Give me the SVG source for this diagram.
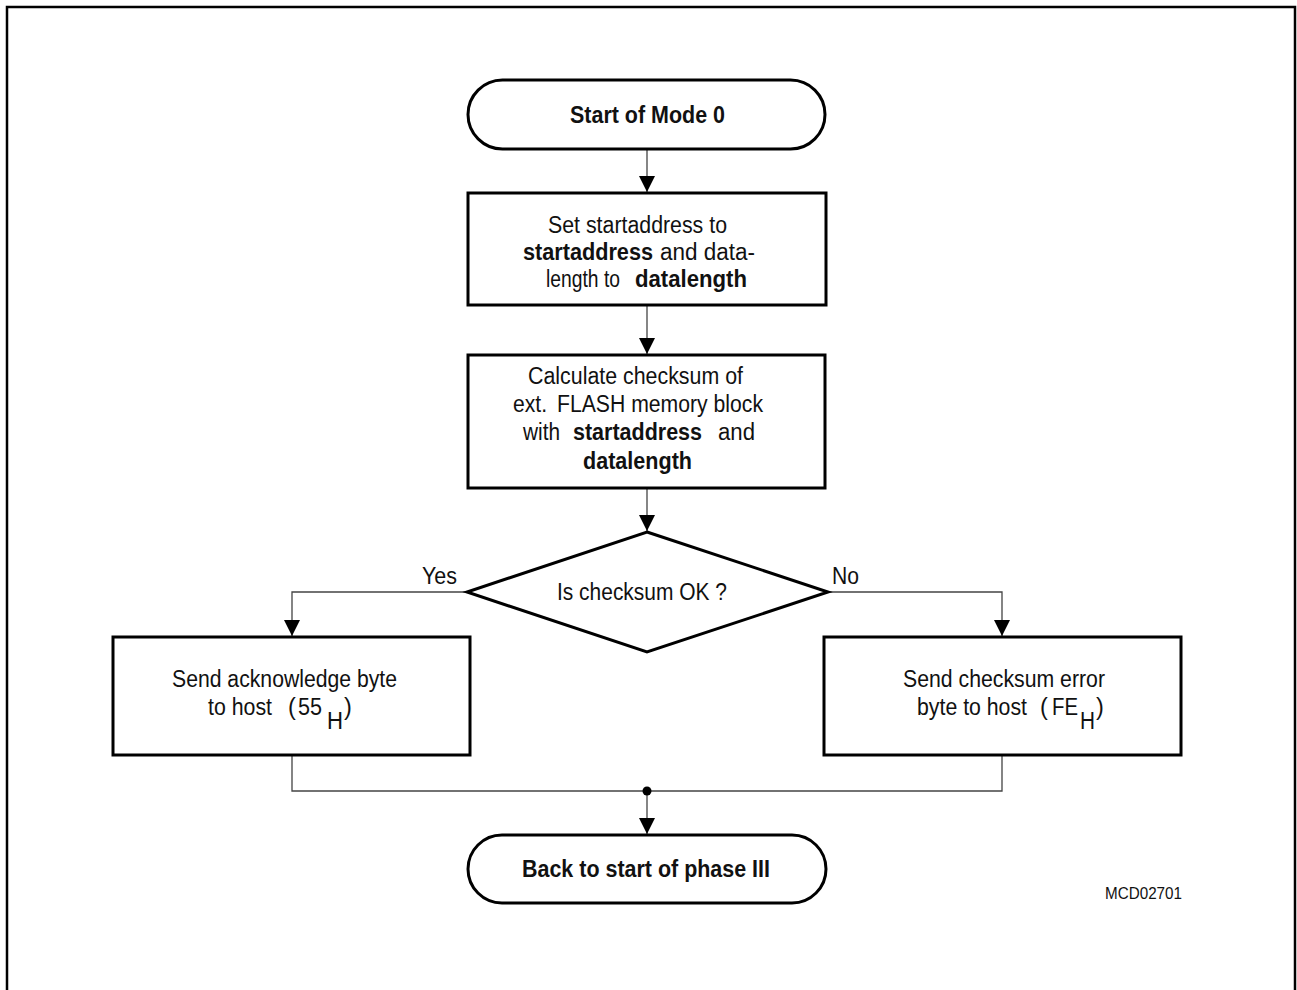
<svg xmlns="http://www.w3.org/2000/svg" width="1297" height="990" viewBox="0 0 1297 990">
<style>
.shape{fill:#fff;stroke:#000;stroke-width:3}
.conn{fill:none;stroke:#444;stroke-width:1.3}
text{font-family:"Liberation Sans",Arial,sans-serif;font-size:23.5px;fill:#111}
.b{font-weight:bold}
.small{font-size:17px}
</style>
<defs>
<marker id="arr" viewBox="0 0 16 16" refX="16" refY="8" markerWidth="16" markerHeight="16" markerUnits="userSpaceOnUse" orient="auto">
<path d="M0,0 L16,8 L0,16 Z" fill="#000"/>
</marker>
</defs>
<rect x="7" y="7" width="1288" height="1000" fill="#fff" stroke="#000" stroke-width="2.5"/>
<g id="connectors">
<line class="conn" x1="647" y1="149" x2="647" y2="192" marker-end="url(#arr)"/>
<line class="conn" x1="647" y1="305" x2="647" y2="354" marker-end="url(#arr)"/>
<line class="conn" x1="647" y1="488" x2="647" y2="531" marker-end="url(#arr)"/>
<polyline class="conn" points="467,592 292,592 292,636" marker-end="url(#arr)"/>
<polyline class="conn" points="828,592 1002,592 1002,636" marker-end="url(#arr)"/>
<polyline class="conn" points="292,755 292,791 1002,791 1002,755"/>
<line class="conn" x1="647" y1="791" x2="647" y2="834" marker-end="url(#arr)"/>
<circle cx="647" cy="791" r="4.5" fill="#000"/>
<text x="422" y="584" textLength="35" lengthAdjust="spacingAndGlyphs">Yes</text>
<text x="832" y="584" textLength="27" lengthAdjust="spacingAndGlyphs">No</text>
</g>
<g id="start">
<rect class="shape" x="468" y="80" width="357" height="69" rx="34.5" ry="34.5"/>
<text class="b" x="570" y="123" textLength="155" lengthAdjust="spacingAndGlyphs">Start of Mode 0</text>
</g>
<g id="set">
<rect class="shape" x="468" y="193" width="358" height="112"/>
<text x="548" y="233" textLength="179" lengthAdjust="spacingAndGlyphs">Set startaddress to</text>
<text class="b" x="523" y="260" textLength="130" lengthAdjust="spacingAndGlyphs">startaddress</text>
<text x="660" y="260" textLength="95" lengthAdjust="spacingAndGlyphs">and data-</text>
<text x="546" y="287" textLength="74" lengthAdjust="spacingAndGlyphs">length to</text>
<text class="b" x="635" y="287" textLength="112" lengthAdjust="spacingAndGlyphs">datalength</text>
</g>
<g id="calc">
<rect class="shape" x="468" y="355" width="357" height="133"/>
<text x="528" y="384" textLength="215" lengthAdjust="spacingAndGlyphs">Calculate checksum of</text>
<text x="513" y="412" textLength="34" lengthAdjust="spacingAndGlyphs">ext.</text>
<text x="557" y="412" textLength="206" lengthAdjust="spacingAndGlyphs">FLASH memory block</text>
<text x="523" y="440" textLength="37" lengthAdjust="spacingAndGlyphs">with</text>
<text class="b" x="573" y="440" textLength="129" lengthAdjust="spacingAndGlyphs">startaddress</text>
<text x="718" y="440" textLength="37" lengthAdjust="spacingAndGlyphs">and</text>
<text class="b" x="583" y="469" textLength="109" lengthAdjust="spacingAndGlyphs">datalength</text>
</g>
<g id="decision">
<polygon class="shape" points="647,532 828,592 647,652 467,592"/>
<text x="557" y="600" textLength="170" lengthAdjust="spacingAndGlyphs">Is checksum OK ?</text>
</g>
<g id="ack">
<rect class="shape" x="113" y="637" width="357" height="118"/>
<text x="172" y="687" textLength="225" lengthAdjust="spacingAndGlyphs">Send acknowledge byte</text>
<text x="208" y="715" textLength="64" lengthAdjust="spacingAndGlyphs">to host</text>
<text x="288" y="715">(</text>
<text x="298" y="715" textLength="24" lengthAdjust="spacingAndGlyphs">55</text>
<text x="327" y="729" textLength="16" lengthAdjust="spacingAndGlyphs">H</text>
<text x="344" y="715">)</text>
</g>
<g id="err">
<rect class="shape" x="824" y="637" width="357" height="118"/>
<text x="903" y="687" textLength="202" lengthAdjust="spacingAndGlyphs">Send checksum error</text>
<text x="917" y="715" textLength="110" lengthAdjust="spacingAndGlyphs">byte to host</text>
<text x="1040" y="715">(</text>
<text x="1052" y="715" textLength="26" lengthAdjust="spacingAndGlyphs">FE</text>
<text x="1080" y="729" textLength="15" lengthAdjust="spacingAndGlyphs">H</text>
<text x="1096" y="715">)</text>
</g>
<g id="end">
<rect class="shape" x="468" y="835" width="358" height="68" rx="34" ry="34"/>
<text class="b" x="522" y="877" textLength="248" lengthAdjust="spacingAndGlyphs">Back to start of phase III</text>
</g>
<text class="small" x="1105" y="899" textLength="77" lengthAdjust="spacingAndGlyphs">MCD02701</text>
</svg>
